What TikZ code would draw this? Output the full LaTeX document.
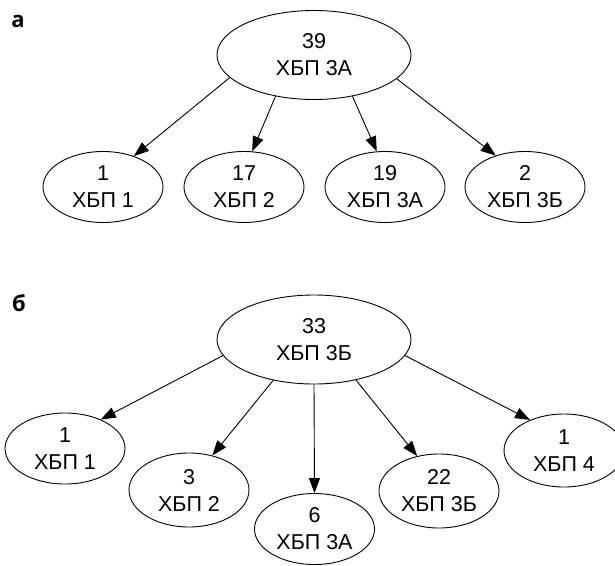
\documentclass[tikz,border=0pt]{standalone}
\usepackage{fontspec}
\setmainfont{Liberation Sans}
\newfontfamily\labelfont{Open Sans}
\usetikzlibrary{shapes.geometric,arrows.meta}
\begin{document}
\begin{tikzpicture}[x=1pt,y=-1pt,
  bubble/.style={draw,ellipse,inner sep=0pt,minimum width=120pt,minimum height=71pt,
    align=center,line width=0.9pt,font=\fontsize{21.5}{27}\selectfont},
  bigbubble/.style={bubble,minimum width=194pt,minimum height=89pt},
  link/.style={line width=0.9pt,-{Triangle[length=15pt,width=11pt]}},
  panel/.style={font=\labelfont\bfseries\fontsize{22}{24}\selectfont}]
\useasboundingbox (0,0) rectangle (615,565);
\clip (0,0) rectangle (615,565);
% panel a
\node[panel] (la) at (18,21) {а};
\node[bigbubble] (ta) at (314,55) {39\\ХБП 3А};
\node[bubble] (a1) at (103,187) {1\\ХБП 1};
\node[bubble] (a2) at (244,187) {17\\ХБП 2};
\node[bubble] (a3) at (385,187) {19\\ХБП 3А};
\node[bubble] (a4) at (525,187) {2\\ХБП 3Б};
\draw[link] (ta.195.6) -- (a1.45.8);
\draw[link] (ta.227) -- (a2.77);
\draw[link] (ta.313.6) -- (a3.103);
\draw[link] (ta.344) -- (a4.133);
% panel b
\node[panel] (lb) at (19,303) {б};
\node[bigbubble] (tb) at (314,339.5) {33\\ХБП 3Б};
\node[bubble] (b1) at (65,448.5) {1\\ХБП 1};
\node[bubble,minimum height=74pt] (b2) at (189,490) {3\\ХБП 2};
\node[bubble] (b3) at (314.5,529) {6\\ХБП 3А};
\node[bubble,minimum height=74pt] (b4) at (439,491) {22\\ХБП 3Б};
\node[bubble,minimum height=73pt] (b5) at (564,450.5) {1\\ХБП 4};
\draw[link] (tb.190.8) -- (b1.39.5);
\draw[link] (tb.225.3) -- (b2.56.3);
\draw[link] (tb.270) -- (b3.90);
\draw[link] (tb.316) -- (b4.122.6);
\draw[link] (tb.350) -- (b5.138);
\end{tikzpicture}
\end{document}
